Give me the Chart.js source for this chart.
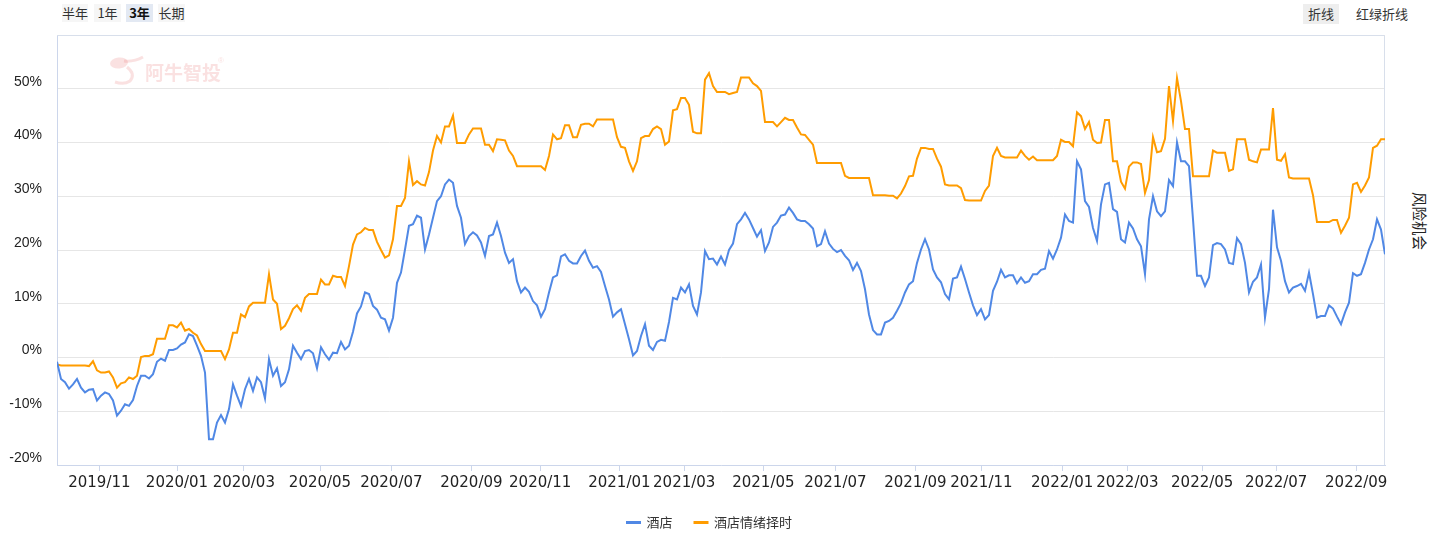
<!DOCTYPE html>
<html lang="zh-CN">
<head>
<meta charset="UTF-8">
<title>酒店情绪择时</title>
<style>
    html, body { margin: 0; padding: 0; background: #fff; }
    body {
        width: 1429px; height: 536px; position: relative; overflow: hidden;
        font-family: "Noto Sans CJK SC", sans-serif; color: #333;
    }
    canvas { position: absolute; left: 0; top: 0; }
    .btn {
        position: absolute; top: 4px; height: 18px; line-height: 18px;
        font-size: 13px; text-align: center; background: #f6f6f6; color: #333;
    }
    .btn.on { background: #e3e9f3; font-weight: bold; color: #111; }
    .btn.plain { background: transparent; }
    .side {
        position: absolute; left: 1389px; top: 213px; width: 62px; height: 16px;
        line-height: 16px; font-size: 14.5px; text-align: center; color: #222;
        transform: rotate(90deg);
    }
</style>
<script src="https://cdn.jsdelivr.net/npm/chart.js"></script>
</head>
<body>
    <div class="btn" style="left:62px;width:26px;">半年</div>
    <div class="btn" style="left:94px;width:27px;">1年</div>
    <div class="btn on" style="left:126px;width:27px;">3年</div>
    <div class="btn" style="left:158px;width:27px;">长期</div>
    <div class="btn" style="left:1303px;width:36px;height:20px;line-height:20px;background:#eeeeee;">折线</div>
    <div class="btn plain" style="left:1353px;width:58px;height:20px;line-height:20px;">红绿折线</div>
    <div class="side">风险机会</div>

    <canvas id="chart" width="1429" height="536"></canvas>

    <script>
        // 酒店 (收益率 %)
        const jiudian = [
            -0.8,-4.0,-4.6,-5.8,-5.0,-4.0,-5.6,-6.5,-6.0,-5.9,
            -8.0,-7.1,-6.5,-6.8,-8.0,-10.8,-9.9,-8.7,-9.0,-7.9,
            -5.3,-3.4,-3.4,-3.9,-3.1,-0.8,-0.2,-0.6,1.4,1.4,
            1.7,2.4,2.8,4.3,4.0,2.2,0.3,-2.8,-15.2,-15.2,
            -12.1,-10.7,-12.1,-9.6,-5.0,-7.1,-9.0,-5.9,-4.0,-6.2,
            -3.7,-4.6,-7.6,-0.3,-3.4,-2.0,-5.3,-4.6,-2.2,2.2,
            0.9,-0.3,1.2,1.4,0.8,-2.0,1.9,0.6,-0.4,0.9,
            0.8,2.9,1.5,2.2,4.8,8.2,9.5,12.1,11.8,9.6,
            8.9,7.4,7.1,5.0,7.4,13.9,15.8,20.1,24.5,24.8,
            26.4,26.0,20.1,22.9,26.0,29.1,30.0,32.2,33.1,32.5,
            28.2,26.0,21.1,22.6,23.3,22.7,21.4,18.9,22.6,22.9,
            25.1,22.6,19.5,17.6,18.3,14.2,12.1,13.0,12.2,10.5,
            9.7,7.6,9.0,12.1,14.9,15.3,18.8,19.2,18.0,17.5,
            17.5,18.9,19.9,18.0,16.7,17.0,15.9,13.3,10.8,7.6,
            8.4,9.0,6.2,3.4,0.4,1.2,4.0,6.2,2.2,1.4,
            2.9,3.3,3.1,6.6,11.1,10.8,13.0,12.1,13.6,9.6,
            8.0,12.1,19.8,18.3,18.4,17.3,18.8,17.3,20.0,21.2,
            24.8,25.7,26.9,25.7,24.1,22.5,23.7,19.8,21.4,24.3,
            25.1,26.4,26.6,27.9,26.9,25.7,25.4,25.4,24.8,24.0,
            20.7,21.1,23.5,21.2,20.2,19.6,20.0,18.9,18.1,16.3,
            17.6,16.1,12.7,8.0,5.1,4.3,4.3,6.5,6.8,7.4,
            8.7,10.1,12.1,13.6,14.2,17.6,20.1,22.0,20.1,16.4,
            14.9,14.0,11.8,10.8,14.7,14.9,16.9,14.6,12.1,9.7,
            7.9,9.0,7.1,7.9,12.4,14.1,16.3,14.9,15.3,15.3,
            13.8,14.9,13.9,14.2,15.5,15.5,16.3,16.5,19.8,18.4,
            20.1,22.3,26.6,25.4,25.1,36.5,35.0,29.1,28.0,24.1,
            21.7,28.5,32.2,32.5,27.6,27.1,22.0,21.4,25.1,24.0,
            22.0,20.7,15.5,25.7,30.0,27.2,26.3,27.2,33.0,31.9,
            40.0,36.5,36.5,35.6,25.7,15.2,15.2,13.3,14.9,20.9,
            21.3,21.1,20.1,17.6,17.4,22.2,21.1,17.6,12.1,14.1,
            14.9,17.3,7.4,12.7,27.5,20.5,18.0,14.2,12.1,13.0,
            13.3,13.7,12.4,15.8,11.8,7.4,7.7,7.7,9.7,9.1,
            7.6,6.2,8.4,10.2,15.7,15.2,15.5,17.6,20.1,22.0,
            25.7,23.8,19.2
        ];

        // 酒店情绪择时 (收益率 %)
        const zeshi = [
            -1.3,-1.5,-1.5,-1.5,-1.5,-1.5,-1.5,-1.5,-1.6,-0.7,
            -2.4,-2.8,-2.8,-2.6,-3.7,-5.6,-4.8,-4.6,-3.7,-4.0,
            -3.4,0.1,0.3,0.3,0.6,3.5,3.5,3.5,6.0,6.0,
            5.6,6.5,5.0,5.3,4.6,4.1,2.5,1.2,1.2,1.2,
            1.2,1.2,-0.3,1.5,4.6,4.6,8.0,7.5,9.5,10.2,
            10.2,10.2,10.2,15.5,10.8,10.0,5.3,5.9,7.3,9.0,
            9.7,8.7,11.1,11.8,11.8,11.8,14.5,13.6,13.6,15.2,
            15.0,15.0,13.3,17.0,21.0,22.9,23.3,24.1,23.7,23.7,
            21.5,20.0,18.6,19.0,22.0,28.2,28.2,29.7,36.5,32.1,
            32.8,32.2,32.0,34.5,38.5,41.2,40.0,43.0,43.0,45.0,
            39.9,39.9,39.9,41.5,42.6,42.6,42.6,39.6,39.6,38.4,
            40.6,40.5,40.4,38.5,37.5,35.6,35.6,35.6,35.6,35.6,
            35.6,35.6,34.9,37.5,41.5,40.6,40.8,43.2,43.2,41.0,
            41.0,43.3,43.5,43.5,43.0,44.3,44.3,44.3,44.3,44.3,
            41.0,39.2,39.0,36.5,34.7,36.5,40.8,41.2,41.2,42.5,
            43.0,42.5,39.6,40.2,46.0,46.2,48.3,48.3,47.0,42.0,
            41.7,41.7,51.7,52.9,50.5,49.4,49.4,49.4,49.0,49.2,
            49.4,52.1,52.1,52.1,51.0,50.5,49.6,43.8,43.8,43.8,
            43.0,43.8,44.6,44.2,44.2,42.8,41.5,41.4,40.5,39.6,
            36.2,36.2,36.2,36.2,36.2,36.2,36.2,33.8,33.4,33.4,
            33.4,33.4,33.4,33.4,30.2,30.2,30.2,30.2,30.1,30.1,
            29.6,30.5,31.9,33.7,33.8,37.0,39.0,39.0,38.8,38.8,
            37.0,35.5,32.2,32.0,32.0,32.0,31.5,29.3,29.2,29.2,
            29.2,29.2,31.0,32.0,37.5,39.0,37.5,37.2,37.2,37.2,
            37.2,38.5,37.5,36.8,37.4,36.7,36.7,36.7,36.7,36.7,
            37.5,40.5,40.1,40.1,39.3,45.6,44.9,42.5,43.8,40.5,
            39.9,40.0,44.2,44.2,36.5,36.5,32.7,31.4,35.5,36.3,
            36.3,36.0,30.6,33.0,41.0,38.2,38.4,40.7,50.5,44.0,
            52.0,47.7,42.5,42.5,33.7,33.7,33.7,33.7,33.7,38.5,
            38.1,38.1,38.1,34.7,35.0,40.6,40.6,40.6,36.8,36.5,
            36.3,38.7,38.7,38.7,46.4,36.8,36.6,37.8,33.5,33.3,
            33.3,33.3,33.3,33.3,30.2,25.2,25.2,25.2,25.2,25.6,
            25.6,23.2,24.5,26.0,32.2,32.5,30.8,32.0,33.5,39.0,
            39.4,40.6,40.6
        ];

        // 横轴刻度 (按交易日序号)
        const tickPos = [10.6, 30, 46.7, 65.75, 83.6, 103.6, 120.8, 140.6, 156.8,
                         176.6, 194.6, 214.6, 231.1, 251.3, 267.6, 286.3, 304.8, 324.8];
        const tickLabels = ['2019/11', '2020/01', '2020/03', '2020/05', '2020/07', '2020/09',
                            '2020/11', '2021/01', '2021/03', '2021/05', '2021/07', '2021/09',
                            '2021/11', '2022/01', '2022/03', '2022/05', '2022/07', '2022/09'];

        const dias = jiudian.map((v, i) => i);

        const BLUE = '#5088e5';
        const ORANGE = '#ff9c00';

        // altura fija de la leyenda y centrado bajo el área del gráfico
        const legendBox = {
            id: 'legendBox',
            beforeInit(chart) {
                const fit = chart.legend.fit;
                chart.legend.fit = function () {
                    fit.call(this);
                    this.height = 42;
                };
            },
            afterLayout(chart) {
                chart.legend.left = 34;
                chart.legend.width = chart.legend.right - 34;
            }
        };

        // marco del área y marca de agua
        const frame = {
            id: 'frame',
            beforeDatasetsDraw(chart) {
                const { ctx, chartArea: a } = chart;
                ctx.save();
                ctx.strokeStyle = '#d8dfeb';
                ctx.lineWidth = 1;
                ctx.beginPath();
                ctx.moveTo(a.left, a.top + 0.5);
                ctx.lineTo(a.right - 0.5, a.top + 0.5);
                ctx.lineTo(a.right - 0.5, a.bottom);
                ctx.stroke();

                // 阿牛智投 watermark
                ctx.fillStyle = 'rgba(232, 120, 120, 0.22)';
                ctx.strokeStyle = 'rgba(232, 120, 120, 0.22)';
                ctx.beginPath();
                ctx.ellipse(119, 63, 9, 5.5, -0.1, 0, Math.PI * 2);
                ctx.fill();
                ctx.lineWidth = 3;
                ctx.beginPath();
                ctx.moveTo(124, 61);
                ctx.quadraticCurveTo(134, 62, 143, 57);
                ctx.stroke();
                ctx.beginPath();
                ctx.moveTo(127, 67);
                ctx.quadraticCurveTo(136, 74, 130, 81);
                ctx.quadraticCurveTo(124, 85, 115, 82);
                ctx.stroke();
                ctx.font = 'bold 19px "Noto Sans CJK SC"';
                ctx.textBaseline = 'middle';
                ctx.fillText('阿牛智投', 145, 73);
                ctx.font = '8px Arial';
                ctx.fillText('®', 218, 61);
                ctx.restore();
            }
        };

        const chart = new Chart(document.getElementById('chart'), {
            type: 'line',
            data: {
                datasets: [{
                    label: '酒店',
                    data: dias.map(i => ({ x: i, y: jiudian[i] })),
                    borderColor: BLUE,
                    backgroundColor: BLUE,
                    borderWidth: 2,
                    pointRadius: 0,
                    tension: 0
                }, {
                    label: '酒店情绪择时',
                    data: dias.map(i => ({ x: i, y: zeshi[i] })),
                    borderColor: ORANGE,
                    backgroundColor: ORANGE,
                    borderWidth: 2,
                    pointRadius: 0,
                    tension: 0
                }]
            },
            options: {
                responsive: false,
                animation: false,
                layout: { padding: { left: 0, right: 44, top: 35, bottom: 0 } },
                scales: {
                    x: {
                        type: 'linear',
                        min: 0,
                        max: jiudian.length - 1,
                        afterBuildTicks: s => { s.ticks = tickPos.map(v => ({ value: v })); },
                        afterFit: s => { s.height = 29; },
                        ticks: {
                            autoSkip: false,
                            maxRotation: 0,
                            padding: 3,
                            color: '#222',
                            font: { family: '"DejaVu Sans"', size: 15 },
                            callback: (v, i) => tickLabels[i]
                        },
                        grid: { drawOnChartArea: false, tickLength: 6, color: '#ccd6eb' },
                        border: { color: '#ccd6eb' }
                    },
                    y: {
                        min: -20,
                        max: 60,
                        afterFit: s => { s.width = 57; },
                        ticks: {
                            stepSize: 10,
                            padding: 15,
                            labelOffset: -7,
                            color: '#222',
                            font: { family: 'Arial, "Liberation Sans"', size: 14 },
                            callback: v => v === 60 ? '' : v + '%'
                        },
                        grid: { color: '#e6e6e6', drawTicks: false },
                        border: { color: '#ccd6eb' }
                    }
                },
                plugins: {
                    legend: {
                        position: 'bottom',
                        labels: {
                            boxWidth: 13,
                            boxHeight: 1,
                            padding: 22,
                            color: '#333',
                            font: { family: '"Noto Sans CJK SC"', size: 13 }
                        }
                    },
                    tooltip: { enabled: false }
                }
            },
            plugins: [legendBox, frame]
        });
    </script>
</body>
</html>
